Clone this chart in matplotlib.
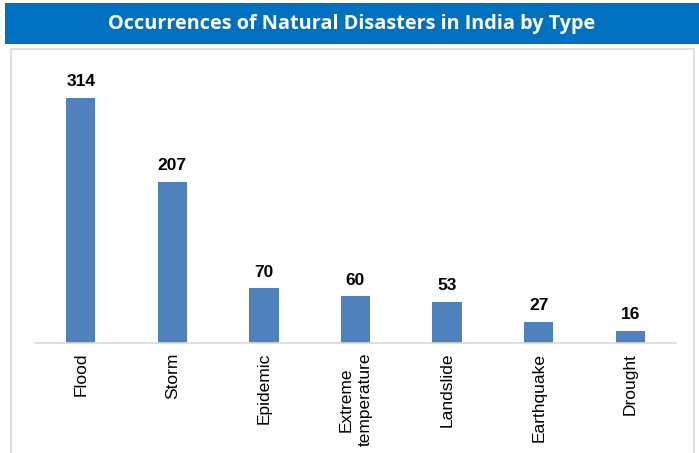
import matplotlib
matplotlib.use('Agg')
import matplotlib.pyplot as plt
from matplotlib.patches import Rectangle

# chart data
categories = ['Flood', 'Storm', 'Epidemic', 'Extreme\ntemperature',
              'Landslide', 'Earthquake', 'Drought']
counts = [314, 207, 70, 60, 53, 27, 16]

title = 'Occurrences of Natural Disasters in India by Type'

W, H = 699, 453
fig = plt.figure(figsize=(W / 100, H / 100), dpi=100)

# outer chart frame (light grey border)
fig.patches.append(Rectangle((11 / W, -0.05), (694 - 11) / W, (H - 49) / H + 0.05,
                             transform=fig.transFigure, facecolor='none',
                             edgecolor='#D9D9D9', linewidth=1.2, zorder=0))

# blue title banner
fig.patches.append(Rectangle((5 / W, (H - 44) / H), (W - 5) / W, 41 / H,
                             transform=fig.transFigure, facecolor='#0070C0',
                             edgecolor='none', zorder=1))
fig.text((5 + W) / 2 / W, (H - 23.5) / H, title, color='white',
         fontsize=14.3, fontweight='bold', family='Open Sans',
         ha='center', va='center')

ax = fig.add_axes([35 / W, (H - 343) / H, (676 - 35) / W, 273 / H])
ax.set_facecolor('none')

x = range(len(categories))
bars = ax.bar(x, counts, width=0.32, color='#4F81BD')
for b, v in zip(bars, counts):
    ax.text(b.get_x() + b.get_width() / 2, v + 11, str(v),
            ha='center', va='bottom', fontsize=12.5, fontweight='bold',
            family='Liberation Sans')

ax.set_xlim(-0.5, len(categories) - 0.5)
ax.set_ylim(0, 350)
ax.set_xticks(list(x))
ax.set_xticklabels(categories, rotation=90, fontsize=12.5,
                   family='Liberation Sans', linespacing=1.35)
ax.tick_params(axis='x', length=0, pad=7)
ax.set_yticks([])
for side in ['top', 'right', 'left']:
    ax.spines[side].set_visible(False)
ax.spines['bottom'].set_color('#D9D9D9')
ax.spines['bottom'].set_linewidth(1.2)

fig.savefig('out.png', dpi=100)
